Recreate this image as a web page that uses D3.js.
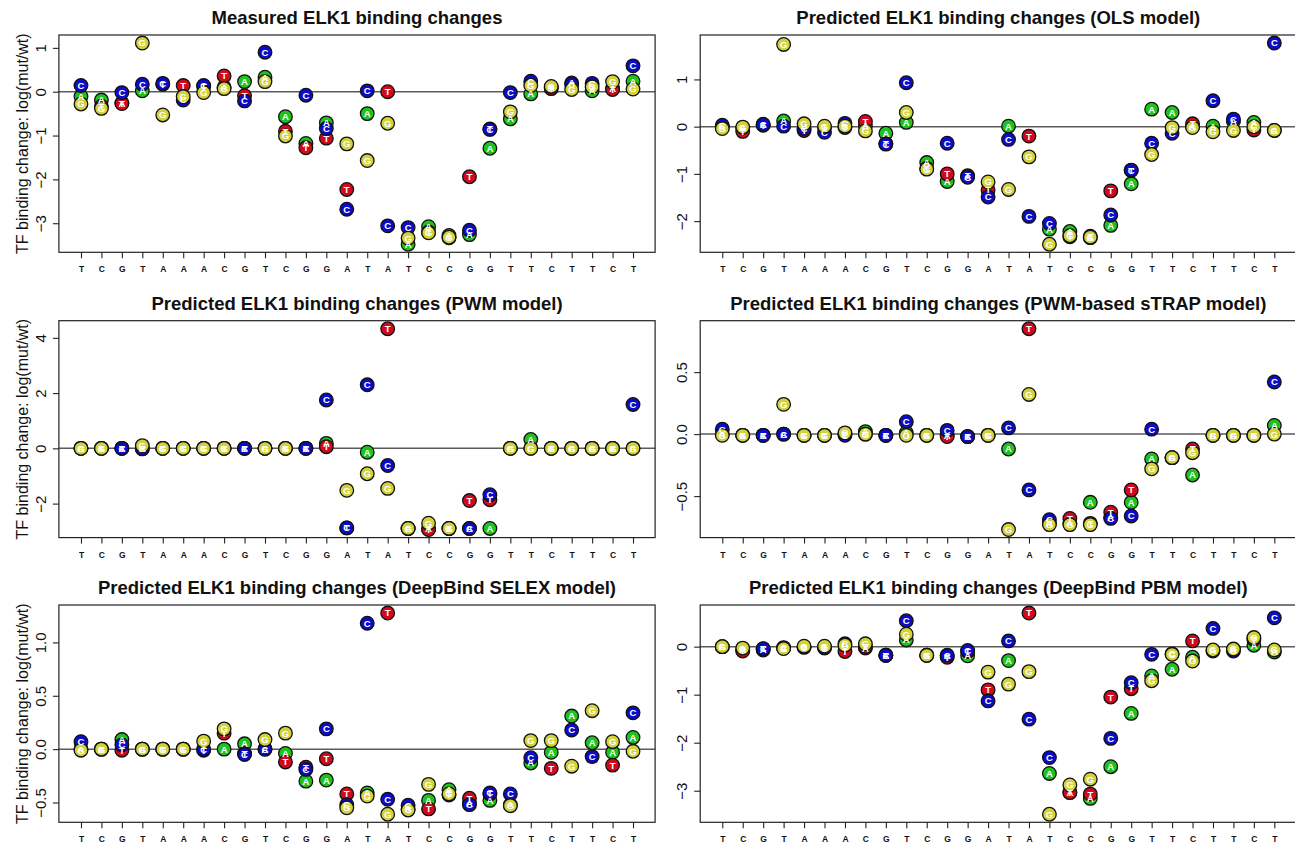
<!DOCTYPE html>
<html>
<head>
<meta charset="utf-8">
<script src="https://cdn.jsdelivr.net/npm/d3@7"></script>
<style>
  html, body { margin: 0; padding: 0; background: #fff; }
  svg { display: block; font-family: "Liberation Sans", Arial, Helvetica, sans-serif; }
</style>
</head>
<body>
<svg id="chart" width="1295" height="845"></svg>
<script>
// Wild-type sequence around the ELK1 site (x axis)
const sequence = ["T","C","G","T","A","A","A","C","G","T","C","G","G","A","T","A","T","C","C","G","G","T","T","C","T","T","C","T"];

// Mutant bases, in the order they are drawn
const drawOrder = ["A","T","C","G"];
const baseColors = { A: "#1ec31e", C: "#0c0cc8", G: "#d2d23a", T: "#d00a1c" };

// log(mut/wt) for each substitution; null where the base is the wild type
const measuredA = [-0.11,-0.19,-0.26,0.02,null,null,null,0.10,0.23,0.33,-0.57,-1.18,-0.71,null,-0.50,null,-3.48,-3.08,-3.28,-3.26,-1.29,-0.62,-0.05,0.10,0.20,0.02,0.07,0.24];
const measuredC = [0.14,null,-0.02,0.17,0.19,-0.19,0.14,null,-0.21,0.90,null,-0.08,-0.84,-2.68,0.02,-3.06,-3.10,null,null,-3.16,-0.86,-0.02,0.24,null,0.17,0.19,null,0.59];
const measuredG = [-0.28,-0.38,null,1.11,-0.53,-0.11,-0.02,0.07,null,0.23,-1.01,null,null,-1.19,-1.57,-0.72,-3.34,-3.22,-3.32,null,null,-0.46,0.14,0.12,0.05,0.11,0.23,0.06];
const measuredT = [null,-0.33,-0.27,null,0.17,0.14,0.12,0.36,-0.09,null,-0.90,-1.28,-1.06,-2.23,null,0.00,null,-3.20,-3.33,-1.94,-0.85,null,null,0.07,null,null,0.05,null];

const olsA = [-0.01,-0.03,0.04,0.12,null,null,null,0.02,-0.14,0.09,-0.76,-1.16,-1.05,null,0.01,null,-2.17,-2.22,-2.35,-2.09,-1.21,0.37,0.30,0.00,0.01,0.11,0.09,-0.08];
const olsC = [0.03,null,0.05,0.01,-0.04,-0.12,0.07,null,-0.37,0.93,null,-0.35,-1.07,-1.49,-0.27,-1.90,-2.05,null,null,-1.87,-0.92,-0.35,-0.14,null,0.55,0.16,null,1.77];
const olsG = [-0.04,-0.01,null,1.74,0.06,0.01,0.01,-0.09,null,0.30,-0.90,null,null,-1.17,-1.33,-0.64,-2.49,-2.31,-2.34,null,null,-0.59,-0.02,-0.02,-0.11,-0.08,0.00,-0.08];
const olsT = [null,-0.10,0.03,null,-0.08,-0.02,-0.02,0.11,-0.36,null,-0.88,-1.00,-1.04,-1.34,null,-0.20,null,-2.33,-2.32,-1.36,-0.93,null,null,0.06,null,null,-0.07,null];

const pwmA = [0,0,0,0,null,null,null,0,0,0,0,0,0.18,null,-0.14,null,-2.90,-2.92,-2.90,-2.90,-2.90,0,0.32,0,0,0,0,0];
const pwmC = [0,null,0,-0.02,0,0,0,null,0,0,null,0,1.75,-2.88,2.30,-0.62,-2.90,null,null,-2.90,-1.68,0,0,null,0,0,null,1.59];
const pwmG = [0,0,null,0.10,0,0,0,0,null,0,0,null,null,-1.52,-0.92,-1.45,-2.90,-2.71,-2.90,null,null,0,0,0,0,0,0,0];
const pwmT = [null,0,0,null,0,0,0,0,0,null,0,0,0.06,-2.88,null,4.33,null,-2.94,-2.90,-1.89,-1.86,null,null,0,null,null,0,null];

const strapA = [0.00,-0.01,-0.01,0.00,null,null,null,0.02,-0.01,0.01,-0.01,-0.01,-0.02,null,-0.12,null,-0.72,-0.72,-0.55,-0.67,-0.55,-0.20,-0.19,-0.33,-0.01,-0.01,-0.01,0.07];
const strapC = [0.04,null,-0.01,0.00,-0.01,-0.01,-0.01,null,-0.01,0.10,null,0.03,-0.02,-0.01,0.05,-0.45,-0.69,null,null,-0.68,-0.66,0.04,-0.19,null,-0.01,-0.01,null,0.42];
const strapG = [-0.01,-0.01,null,0.24,-0.01,-0.01,0.01,0.00,null,-0.01,-0.01,null,null,-0.01,-0.77,0.32,-0.73,-0.73,-0.73,null,null,-0.28,-0.19,-0.15,-0.01,-0.01,-0.01,0.00];
const strapT = [null,-0.01,-0.01,null,-0.01,-0.01,0.00,0.00,-0.01,null,-0.01,-0.02,-0.02,-0.01,null,0.85,null,-0.68,-0.72,-0.63,-0.45,null,null,-0.12,null,null,-0.01,null];

const selexA = [0.00,0.00,0.09,0.00,null,null,null,0.00,0.05,0.00,-0.04,-0.30,-0.29,null,-0.41,null,-0.56,-0.48,-0.38,-0.51,-0.48,-0.52,-0.13,-0.03,0.31,0.06,-0.03,0.11];
const selexC = [0.07,null,0.04,0.00,0.00,0.00,0.00,null,-0.05,0.00,null,-0.19,0.19,-0.52,1.18,-0.47,-0.525,null,null,-0.52,-0.41,-0.42,-0.08,null,0.18,-0.07,null,0.34];
const selexG = [-0.01,0.00,null,0.00,0.00,0.00,0.075,0.19,null,0.09,0.15,null,null,-0.55,-0.44,-0.61,-0.57,-0.33,-0.42,null,null,-0.53,0.08,0.08,-0.16,0.36,0.07,-0.02];
const selexT = [null,0.00,-0.01,null,0.00,0.00,-0.01,0.15,-0.04,null,-0.12,-0.17,-0.09,-0.42,null,1.275,null,-0.56,-0.43,-0.46,-0.42,null,null,-0.18,null,null,-0.15,null];

const pbmA = [0.00,-0.07,-0.07,-0.03,null,null,null,-0.03,-0.18,0.14,-0.18,-0.19,-0.19,null,-0.29,null,-2.64,-3.03,-3.16,-2.50,-1.39,-0.61,-0.47,-0.22,-0.09,-0.06,0.03,-0.11];
const pbmC = [0.00,null,-0.04,-0.02,-0.01,-0.03,0.06,null,-0.18,0.54,null,-0.18,-0.08,-1.13,0.12,-1.51,-2.31,null,null,-1.91,-0.75,-0.16,-0.15,null,0.38,-0.09,null,0.60];
const pbmG = [0.00,-0.03,null,-0.04,0.01,0.01,0.03,0.06,null,0.26,-0.18,null,null,-0.53,-0.78,-0.52,-3.49,-2.88,-2.76,null,null,-0.71,-0.16,-0.30,-0.07,-0.05,0.19,-0.07];
const pbmT = [null,-0.09,-0.05,null,-0.01,-0.01,-0.10,0.00,-0.18,null,-0.18,-0.22,-0.10,-0.90,null,0.70,null,-3.04,-3.07,-1.05,-0.875,null,null,0.12,null,null,0.15,null];

// Y axis tick values per panel
const measuredTicks = [-3,-2,-1,0,1];
const olsTicks = [-2,-1,0,1];
const pwmTicks = [-2,0,2,4];
const strapTicks = [-0.5,0,0.5];
const selexTicks = [-0.5,0,0.5,1];
const pbmTicks = [-3,-2,-1,0];

const panels = [
  { title: "Measured ELK1 binding changes", A: measuredA, C: measuredC, G: measuredG, T: measuredT, ticks: measuredTicks, fmt: "d" },
  { title: "Predicted ELK1 binding changes (OLS model)", A: olsA, C: olsC, G: olsG, T: olsT, ticks: olsTicks, fmt: "d" },
  { title: "Predicted ELK1 binding changes (PWM model)", A: pwmA, C: pwmC, G: pwmG, T: pwmT, ticks: pwmTicks, fmt: "d" },
  { title: "Predicted ELK1 binding changes (PWM-based sTRAP model)", A: strapA, C: strapC, G: strapG, T: strapT, ticks: strapTicks, fmt: ".1f" },
  { title: "Predicted ELK1 binding changes (DeepBind SELEX model)", A: selexA, C: selexC, G: selexG, T: selexT, ticks: selexTicks, fmt: ".1f" },
  { title: "Predicted ELK1 binding changes (DeepBind PBM model)", A: pbmA, C: pbmC, G: pbmG, T: pbmT, ticks: pbmTicks, fmt: "d" }
];

// Plot-region geometry (2 columns x 3 rows)
const cols = [{ x0: 58.9, x1: 655.1 }, { x0: 700.2, x1: 1296.4 }];
const rows = [{ y0: 35, y1: 252.3 }, { y0: 320.7, y1: 537.6 }, { y0: 605, y1: 822.3 }];

const svg = d3.select("#chart");
const n = sequence.length;
const minus = s => s.replace(/-/g, "\u2212");

panels.forEach((p, k) => {
  const col = cols[k % 2], row = rows[Math.floor(k / 2)];
  const g = svg.append("g");

  // x: positions 1..n with a 4% margin on each side
  const xPad = (n - 1) * 0.04;
  const x = d3.scaleLinear().domain([1 - xPad, n + xPad]).range([col.x0, col.x1]);

  const all = drawOrder.flatMap(b => p[b].filter(v => v !== null));
  const [lo, hi] = d3.extent(all);
  const yPad = (hi - lo) * 0.04;
  const y = d3.scaleLinear().domain([lo - yPad, hi + yPad]).range([row.y1, row.y0]);

  // zero reference line
  g.append("line")
    .attr("x1", col.x0).attr("x2", col.x1)
    .attr("y1", y(0)).attr("y2", y(0))
    .attr("stroke", "#5a5a5a").attr("stroke-width", 1.5);

  // flatten points in drawing order
  const pts = [];
  drawOrder.forEach(b => {
    p[b].forEach((v, i) => { if (v !== null) pts.push({ base: b, pos: i + 1, value: v }); });
  });

  g.append("g").selectAll("circle").data(pts).join("circle")
    .attr("cx", d => x(d.pos)).attr("cy", d => y(d.value))
    .attr("r", 6.8)
    .attr("fill", d => baseColors[d.base])
    .attr("stroke", "#111").attr("stroke-width", 1.3);

  g.append("g").selectAll("text").data(pts).join("text")
    .attr("x", d => x(d.pos)).attr("y", d => y(d.value))
    .attr("dy", "0.36em")
    .attr("text-anchor", "middle")
    .attr("fill", "#fff").attr("font-weight", "bold").attr("font-size", 9.5)
    .text(d => d.base);

  // plot frame
  g.append("rect")
    .attr("x", col.x0).attr("y", row.y0)
    .attr("width", col.x1 - col.x0).attr("height", row.y1 - row.y0)
    .attr("fill", "none").attr("stroke", "#222").attr("stroke-width", 1.2);

  // y axis
  const fmt = d3.format(p.fmt);
  const yAxis = g.append("g")
    .attr("transform", `translate(${col.x0},0)`)
    .call(d3.axisLeft(y).tickValues(p.ticks).tickSize(6).tickFormat(v => minus(fmt(v))));
  yAxis.select(".domain").remove();
  yAxis.selectAll(".tick line").attr("stroke", "#222").attr("stroke-width", 1.1);
  yAxis.selectAll(".tick text")
    .attr("transform", "rotate(-90)")
    .attr("x", 0).attr("y", -18).attr("dy", "0.35em")
    .attr("text-anchor", "middle")
    .attr("font-size", 15).attr("fill", "#111")
    .attr("font-family", "\"Liberation Sans\", Arial, sans-serif");

  // x axis with sequence letters
  const xAxis = g.append("g")
    .attr("transform", `translate(0,${row.y1})`)
    .call(d3.axisBottom(x).tickValues(d3.range(1, n + 1)).tickSize(6).tickFormat(i => sequence[i - 1]));
  xAxis.select(".domain").remove();
  xAxis.selectAll(".tick line").attr("stroke", "#222").attr("stroke-width", 1.1);
  xAxis.selectAll(".tick text")
    .attr("y", 17).attr("dy", "0.35em")
    .attr("font-size", 8.5).attr("font-weight", "bold").attr("fill", "#111")
    .attr("font-family", "\"Liberation Sans\", Arial, sans-serif");

  // panel title
  g.append("text")
    .attr("x", (col.x0 + col.x1) / 2).attr("y", row.y0 - 11)
    .attr("text-anchor", "middle")
    .attr("font-size", 18.5).attr("font-weight", "bold").attr("fill", "#111")
    .text(p.title);

  // y axis title on the left column
  if (k % 2 === 0) {
    g.append("text")
      .attr("transform", `translate(${col.x0 - 37},${(row.y0 + row.y1) / 2}) rotate(-90)`)
      .attr("text-anchor", "middle").attr("dy", "0.35em")
      .attr("font-size", 16).attr("fill", "#111")
      .text("TF binding change: log(mut/wt)");
  }
});
</script>
</body>
</html>
